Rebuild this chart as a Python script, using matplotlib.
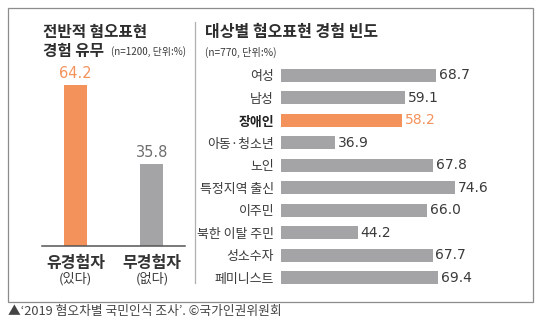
import matplotlib

matplotlib.use("Agg")
import matplotlib.pyplot as plt
from matplotlib.patches import Rectangle
from matplotlib.lines import Line2D

plt.rcParams["font.family"] = ["Noto Sans CJK KR", "DejaVu Sans"]

# left panel: experience yes / no
exp_labels = ["유경험자", "무경험자"]
exp_sub = ["(있다)", "(없다)"]
exp_values = [64.2, 35.8]

# right panel: frequency by target group
group_labels = ["여성", "남성", "장애인", "아동·청소년", "노인", "특정지역 출신",
                "이주민", "북한 이탈 주민", "성소수자", "페미니스트"]
group_values = [68.7, 59.1, 58.2, 36.9, 67.8, 74.6, 66.0, 44.2, 67.7, 69.4]
highlight = "장애인"

ORANGE = "#F4925C"
GREY = "#A4A4A6"
TEXT = "#3A3A3A"

W, H = 545, 336
fig = plt.figure(figsize=(W / 100, H / 100), dpi=100)


def box(x0, y0, x1, y1):
    # pixel box (top-left origin) -> figure fraction [l, b, w, h]
    return [x0 / W, 1 - y1 / H, (x1 - x0) / W, (y1 - y0) / H]


def fx(x):
    return x / W


def fy(y):
    return 1 - y / H


# outer frame and divider
fig.patches.append(Rectangle((fx(8), fy(302)), fx(525), (302 - 8) / H, transform=fig.transFigure,
                             fill=False, ec="#8C8C8C", lw=0.9))
fig.lines.append(Line2D([fx(195), fx(195)], [fy(22), fy(283)], transform=fig.transFigure,
                        color="#B0B0B0", lw=0.9))

# ---- left panel
fig.text(fx(43), fy(32), "전반적 혐오표현", fontsize=11.3, fontweight="bold", color="#2E2E2E", va="center")
fig.text(fx(43), fy(51), "경험 유무", fontsize=11.3, fontweight="bold", color="#2E2E2E", va="center")
fig.text(fx(111), fy(52), "(n=1200, 단위:%)", fontsize=7.1, color=TEXT, va="center")

ax1 = fig.add_axes(box(42, 70, 185, 246))
x = range(len(exp_values))
ax1.bar(x, exp_values, width=0.30, color=[ORANGE, GREY])
ax1.set_xlim(-0.437, 1.432)
ax1.set_ylim(6.3, 69.6)
ax1.axis("off")
ax1.axhline(6.3, color="#555555", lw=1.1, clip_on=False)
for i, v in enumerate(exp_values):
    ax1.annotate(f"{v:.1f}", (i, v), xytext=(0, 3), textcoords="offset points", ha="center",
                 va="bottom", fontsize=10.5, family=["DejaVu Sans"],
                 color=ORANGE if i == 0 else "#6E6E6E")
    ax1.annotate(exp_labels[i], (i, 0), xycoords=ax1.get_xaxis_transform(), xytext=(0, -17),
                 textcoords="offset pixels", ha="center", va="center", fontsize=11.5,
                 fontweight="bold", color="#333333")
    ax1.annotate(exp_sub[i], (i, 0), xycoords=ax1.get_xaxis_transform(), xytext=(0, -33),
                 textcoords="offset pixels", ha="center", va="center", fontsize=9.5, color=TEXT)

# ---- right panel
fig.text(fx(205), fy(32), "대상별 혐오표현 경험 빈도", fontsize=11.5, fontweight="bold", color="#2E2E2E", va="center")
fig.text(fx(205), fy(52), "(n=770, 단위:%)", fontsize=7.3, color=TEXT, va="center")

ax2 = fig.add_axes(box(281, 64, 530, 289))
y = range(len(group_values))
colors = [ORANGE if g == highlight else GREY for g in group_labels]
ax2.barh(y, group_values, height=0.58, color=colors)
ax2.set_xlim(20, 98.3)
ax2.set_ylim(len(group_values) - 0.5, -0.5)
for s in ax2.spines.values():
    s.set_visible(False)
ax2.set_xticks([])
ax2.set_yticks(list(y))
ax2.set_yticklabels(group_labels, fontsize=9.3, color=TEXT)
ax2.tick_params(axis="y", length=0, pad=5)
for lab in ax2.get_yticklabels():
    if lab.get_text() == highlight:
        lab.set_fontweight("bold")
        lab.set_color("#222222")
for i, v in enumerate(group_values):
    ax2.annotate(f"{v:.1f}", (v, i), xytext=(2, 0), textcoords="offset points", ha="left",
                 va="center", fontsize=10, family=["DejaVu Sans"],
                 color=ORANGE if group_labels[i] == highlight else TEXT)

# caption
fig.text(fx(8), fy(312), "▲‘2019 혐오차별 국민인식 조사’. ©국가인권위원회", fontsize=9.2,
         color="#444444", va="center")

fig.savefig("out.png", dpi=100)
